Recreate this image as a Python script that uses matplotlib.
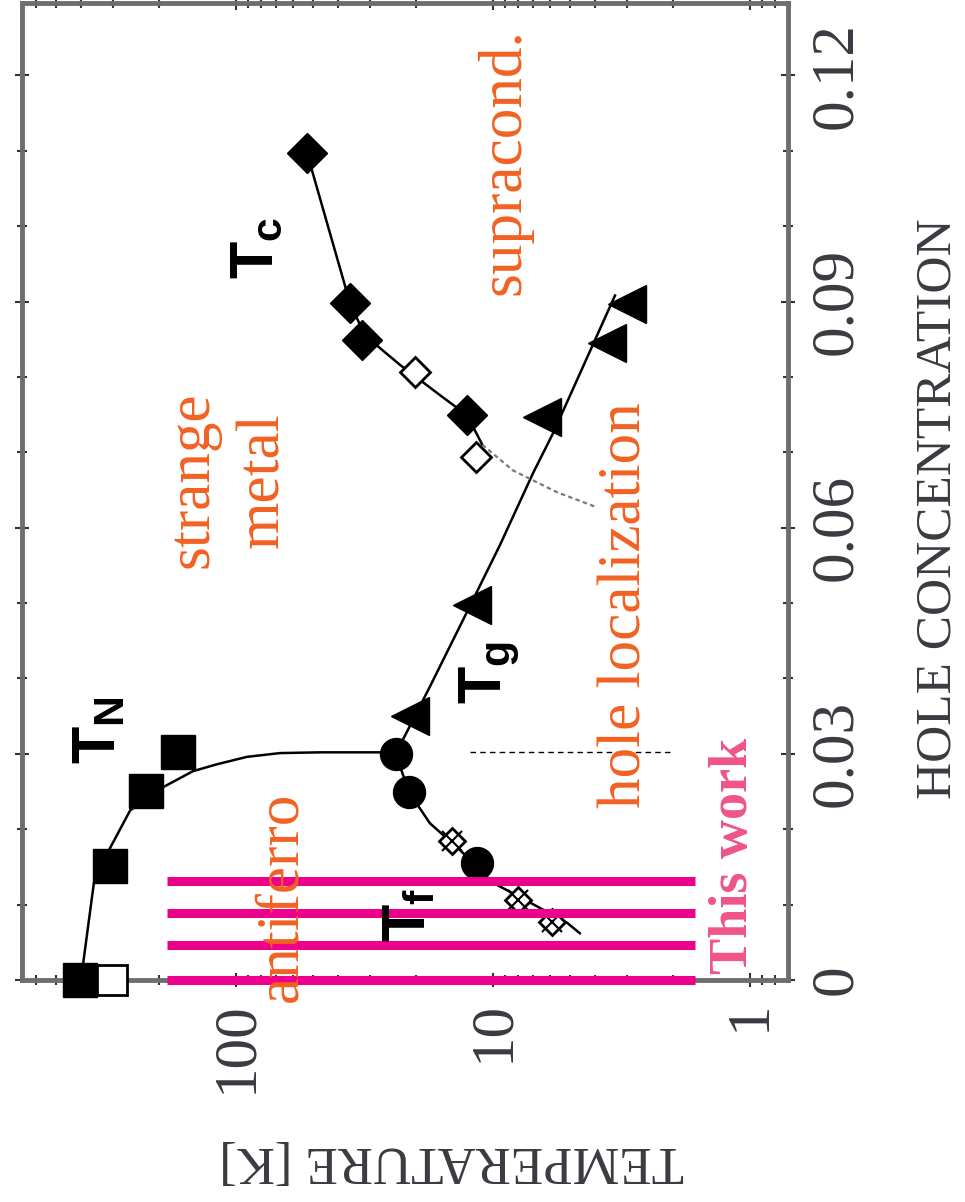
import matplotlib
matplotlib.use("Agg")
import matplotlib.pyplot as plt
from matplotlib.ticker import FixedLocator, MultipleLocator, LogLocator, FuncFormatter, NullFormatter

plt.rcParams['font.family'] = ['Liberation Serif', 'DejaVu Serif']
plt.rcParams['mathtext.fontset'] = 'custom'
plt.rcParams['mathtext.bf'] = 'Liberation Sans:bold'
plt.rcParams['mathtext.rm'] = 'Liberation Sans'

# Neel temperature T_N (line and squares)
tn_line_T = [401, 357, 309, 258, 194, 147, 119, 90.6, 67.4, 47.1, 27.5]
tn_line_p = [0, 0.0129, 0.0175, 0.0225, 0.0255, 0.0277, 0.0286, 0.0296, 0.0301, 0.0302, 0.0302]
tn_T = [405, 309, 224, 168]
tn_p = [0, 0.0151, 0.0251, 0.0302]
tn_open_T = [304]
tn_open_p = [0]

# spin freezing T_f
tf_line_T = [23.9, 21.2, 17.6, 13.4, 10.0, 7.85, 5.15, 4.59]
tf_line_p = [0.0300, 0.0249, 0.0208, 0.0172, 0.0129, 0.0110, 0.0076, 0.0062]
tf_T = [23.9, 21.2, 11.5]
tf_p = [0.0300, 0.0249, 0.0155]
tf_open_T = [14.4, 8.0, 5.9]
tf_open_p = [0.0184, 0.0106, 0.0077]

# T_g
tg_line_T = [23.9, 17.6, 13.1, 9.39, 6.99, 5.84, 4.47, 3.35]
tg_line_p = [0.0300, 0.0389, 0.0477, 0.0577, 0.0672, 0.0725, 0.0813, 0.0908]
tg_T = [21.0, 12.1, 6.45, 3.60, 3.01]
tg_p = [0.0350, 0.0497, 0.0747, 0.0845, 0.0897]

# superconducting T_c
tc_line_T = [52.9, 36.0, 31.5, 23.0, 16.1, 12.6, 11.0]
tc_line_p = [0.1097, 0.0898, 0.0855, 0.0816, 0.0776, 0.0749, 0.0710]
tc_ext_T = [11.0, 8.36, 5.63, 3.94]
tc_ext_p = [0.0710, 0.0676, 0.0647, 0.0627]
tc_T = [52.9, 36.0, 32.3, 12.6]
tc_p = [0.1097, 0.0898, 0.0849, 0.0749]
tc_open_T = [11.6, 20.1]
tc_open_p = [0.0694, 0.0806]

# dashed boundary at p = 0.03
dash_T = [12.3, 1.99]
dash_p = [0.0302, 0.0302]

# samples of this work
work_p = [0.0, 0.0046, 0.0089, 0.0131]
work_Tmin, work_Tmax = 1.64, 185.6

temp_ticks = [1, 10, 100]
hole_ticks = [0, 0.03, 0.06, 0.09, 0.12]

orange = '#F26122'
pink = '#EF5489'
magenta = '#EC008C'
txt = '#3a3a40'

fig = plt.figure(figsize=(9.65, 12.02), dpi=100)
ax = fig.add_axes([22 / 965, 222 / 1202, 766 / 965, 977 / 1202])
ax.set_xscale('log')
ax.set_xlim(680, 0.711)
ax.set_ylim(0, 0.1296)

# curves
ax.plot(tn_line_T, tn_line_p, color='k', lw=1.8, zorder=2, clip_on=False)
ax.plot(tf_line_T, tf_line_p, color='k', lw=1.8, zorder=2)
ax.plot(tg_line_T, tg_line_p, color='k', lw=1.8, zorder=2)
ax.plot(tc_line_T, tc_line_p, color='k', lw=1.8, zorder=2)
ax.plot(tc_ext_T, tc_ext_p, color='#7a7a7a', lw=1.6, ls=(0, (2, 1.5)), zorder=2)
ax.plot(dash_T, dash_p, color='k', lw=1.0, ls=(0, (4, 3)), zorder=2)

# symbols
ax.plot(tn_T, tn_p, 's', color='k', ms=24, zorder=3, clip_on=False)
ax.plot(tn_open_T, tn_open_p, 's', mfc='white', mec='k', mew=2, ms=22, zorder=4, clip_on=False)
ax.plot(tf_T, tf_p, 'o', color='k', ms=23, zorder=3)
ax.plot(tf_open_T, tf_open_p, 'D', mfc='white', mec='k', mew=2, ms=13, zorder=3)
ax.plot(tf_open_T, tf_open_p, 'x', color='k', mew=1.5, ms=14, zorder=3)
ax.plot(tg_T, tg_p, '<', color='k', ms=27, zorder=3)
ax.plot(tc_T, tc_p, 'D', color='k', ms=20, zorder=3)
ax.plot(tc_open_T, tc_open_p, 'D', mfc='white', mec='k', mew=2, ms=15, zorder=3)

ax.hlines(work_p, work_Tmax, work_Tmin, color=magenta, lw=6.5, zorder=5, clip_on=False)

# labels inside the diagram
ax.text(107, 0.0663, 'strange\nmetal', color=orange, fontsize=44, rotation=90,
        ha='center', va='center', linespacing=1.35, zorder=6)
ax.text(66.2, 0.0111, 'antiferro', color=orange, fontsize=44, rotation=90,
        ha='center', va='center', zorder=6)
ax.text(3.04, 0.0497, 'hole localization', color=orange, fontsize=44, rotation=90,
        ha='center', va='center', zorder=6)
ax.text(8.98, 0.1085, 'supracond.', color=orange, fontsize=44, rotation=90,
        ha='center', va='center', zorder=6)
ax.text(1.154, 0.0164, 'This work', color=pink, fontsize=39, fontweight='bold',
        rotation=90, ha='center', va='center', zorder=6)

for s, T, p in [(r'$\mathbf{T}_{\mathbf{N}}$', 338, 0.0332),
                (r'$\mathbf{T}_{\mathbf{f}}$', 21.0, 0.0086),
                (r'$\mathbf{T}_{\mathbf{g}}$', 10.3, 0.0408),
                (r'$\mathbf{T}_{\mathbf{c}}$', 82.1, 0.0971)]:
    ax.text(T, p, s, fontsize=44, rotation=90, ha='center', va='center', zorder=6)

# axes
ax.xaxis.set_major_locator(FixedLocator(temp_ticks))
ax.xaxis.set_major_formatter(FuncFormatter(lambda v, pos: f'{v:g}'))
ax.xaxis.set_minor_locator(LogLocator(base=10, subs=range(2, 10)))
ax.xaxis.set_minor_formatter(NullFormatter())
ax.yaxis.set_major_locator(FixedLocator(hole_ticks))
ax.yaxis.set_major_formatter(FuncFormatter(lambda v, pos: '0' if v == 0 else f'{v:.2f}'))
ax.yaxis.set_minor_locator(MultipleLocator(0.01))

ax.tick_params(which='both', direction='inout', top=True, bottom=True, left=True, right=True,
               labelleft=False, labelright=True, color='#333333', width=1.5)
ax.tick_params(which='major', length=10)
ax.tick_params(which='minor', length=7)
ax.tick_params(axis='x', labelrotation=90, labelsize=44, labelcolor=txt, pad=10)
ax.tick_params(axis='y', labelrotation=90, labelsize=44, labelcolor=txt, pad=10)
plt.setp(ax.get_yticklabels(), va='center')

for sp in ax.spines.values():
    sp.set_color('#6e6e6e')
    sp.set_linewidth(3.5)

ax.set_xlabel('TEMPERATURE [K]', fontsize=38, color=txt, rotation=180, va='center', ha='center')
ax.xaxis.set_label_coords((452 - 22) / 766, (980 - 1160) / 977)
ax.yaxis.set_label_position('right')
ax.set_ylabel('HOLE CONCENTRATION', fontsize=37, color=txt, rotation=90, va='center', ha='center')
ax.yaxis.set_label_coords((938 - 22) / 766, (980 - 509) / 977)

fig.savefig('out.png', dpi=100)
